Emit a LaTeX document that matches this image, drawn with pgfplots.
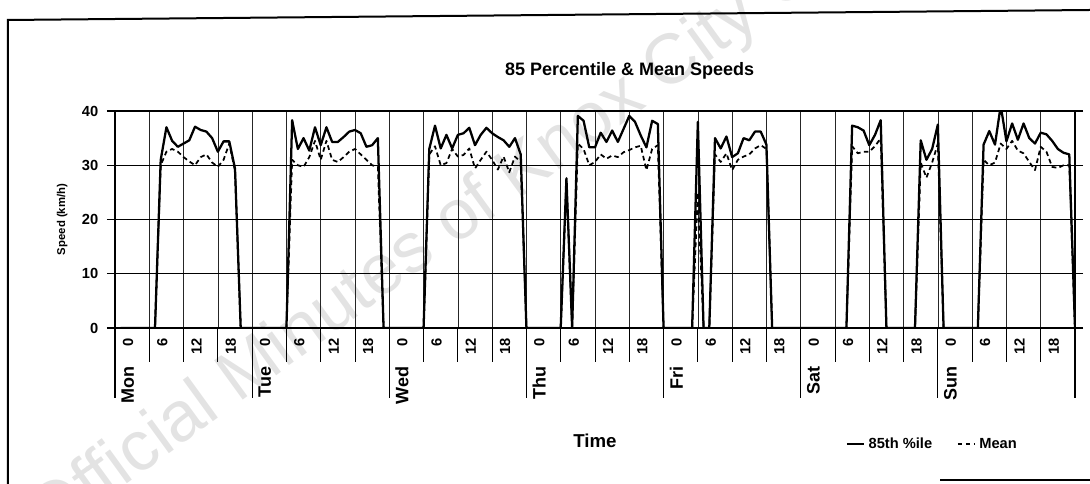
\documentclass[border=0pt]{standalone}
\usepackage{fontspec}
\setmainfont{Liberation Sans}
\usepackage{pgfplots}
\pgfplotsset{compat=1.18}
\usepackage{pgfplotstable}

\pgfplotstableread{
h p85 mean
1 0 0
2 0 0
3 0 0
4 0 0
5 0 0
6 0 0
7 0 0
8 31 30
9 37 32.5
10 34.5 33
11 33.4 32.5
12 34 31.5
13 34.6 30.7
14 37.1 30
15 36.5 31.5
16 36.2 32
17 35 30.5
18 32.5 29.7
19 34.4 31
20 34.4 34
21 29.4 29
22 0 0
23 0 0
24 0 0
25 0 0
26 0 0
27 0 0
28 0 0
29 0 0
30 0 0
31 38.3 31
32 33 30
33 35 29.7
34 32.7 31.5
35 37 34.5
36 33.7 31
37 37 34.5
38 34.3 31
39 34.3 30.6
40 35.2 31.5
41 36.2 32.5
42 36.5 33
43 35.9 32
44 33.4 31
45 33.7 30
46 35 29.7
47 0 0
48 0 0
49 0 0
50 0 0
51 0 0
52 0 0
53 0 0
54 0 0
55 33 32
56 37.3 33.5
57 33.1 30
58 35.6 30.4
59 33.1 33
60 35.6 31.6
61 35.9 31.9
62 36.9 33.1
63 33.7 29.4
64 35.6 31
65 36.9 32.5
66 35.9 31
67 35.2 29.2
68 34.6 31.6
69 33.4 28.7
70 35 31.6
71 32 30.6
72 0 0
73 0 0
74 0 0
75 0 0
76 0 0
77 0 0
78 0 0
79 27.6 27
80 0 0
81 39.1 34
82 38.2 33
83 33.3 30
84 33.3 30.6
85 36 32
86 34.3 31.2
87 36.4 31.8
88 34.3 31.5
89 36.7 32.4
90 39.1 32.8
91 38 33.3
92 35.5 33.6
93 33.3 29.1
94 38.2 33
95 37.6 33.7
96 0 0
97 0 0
98 0 0
99 0 0
100 0 0
101 0 0
102 38 25
103 0 0
104 0 0
105 35 32
106 33.1 30.6
107 35.3 32.2
108 31.5 29.1
109 32.2 31
110 35 31.6
111 34.6 32
112 36.2 33.1
113 36.2 33.7
114 33.8 33
115 0 0
116 0 0
117 0 0
118 0 0
119 0 0
120 0 0
121 0 0
122 0 0
123 0 0
124 0 0
125 0 0
126 0 0
127 0 0
128 0 0
129 37.3 33.5
130 37 32.2
131 36.4 32.5
132 33.7 32.5
133 35.6 33.5
134 38.3 35
135 0 0
136 0 0
137 0 0
138 0 0
139 0 0
140 0 0
141 34.6 30.5
142 31 27.7
143 33 30.5
144 37.5 34
145 0 0
146 0 0
147 0 0
148 0 0
149 0 0
150 0 0
151 0 0
152 33.8 31
153 36.3 30
154 33.8 30.5
155 41 34
156 34.4 33
157 37.7 34.5
158 34.7 32.7
159 37.7 32.2
160 35 30.6
161 34 29.1
162 36 33.4
163 35.7 32.5
164 34.5 29.7
165 33 29.5
166 32.3 30
167 32 30
168 0 0
}\speeds

\begin{document}
\begin{tikzpicture}
\useasboundingbox (-86.25pt,-117pt) rectangle (731.25pt,246pt);
% watermark
\begin{scope}
\clip (-86.25pt,-117pt) rectangle (731.25pt,246pt);
\node[rotate=36, anchor=base west, text=black!11, inner sep=0pt,
      font=\fontsize{53}{60}\selectfont] at (-50pt,-160pt)
      {Official Minutes of Knox City Council};
\end{scope}
% page frame
\draw[line width=1.5pt] (-80.25pt,-117pt) -- (-80.25pt,231pt) -- (731.25pt,238.5pt);
\draw[line width=1.2pt] (618.75pt,-114pt) -- (731.25pt,-114pt);

\begin{axis}[
  at={(0pt,0pt)}, anchor=south west,
  scale only axis, width=720pt, height=162.75pt,
  xmin=0, xmax=168, ymin=0, ymax=40,
  xtick={0,6,...,168}, xticklabels={},
  xtick style={draw=none},
  ytick={0,10,20,30,40},
  /pgf/number format/assume math mode=true,
  yticklabel style={font=\bfseries\fontsize{11}{12}\selectfont, xshift=-3pt},
  ytick style={draw=black, line width=0.8pt},
  tick align=outside, major tick length=6pt,
  xmajorgrids, ymajorgrids,
  x grid style={black!85, line width=0.5pt},
  y grid style={black, line width=0.8pt},
  axis line style={black, line width=0.8pt},
  title={85 Percentile \& Mean Speeds},
  title style={at={(0.536,1.15)}, anchor=center, font=\bfseries\fontsize{13.5}{16}\selectfont},
  ylabel={Speed (km/h)},
  ylabel style={at={(-0.055,0.5)}, anchor=center, rotate=0, font=\bfseries\fontsize{8.5}{10}\selectfont},
  xlabel={Time},
  xlabel style={at={(0.5,-0.52)}, anchor=center, font=\bfseries\fontsize{14}{16}\selectfont},
  legend style={at={(0.852,-0.535)}, anchor=center, draw=none, fill=none,
    legend columns=2, font=\bfseries\fontsize{11}{13}\selectfont,
    /tikz/every even column/.append style={column sep=16pt},
    inner sep=0pt, nodes={inner sep=2.5pt}},
  legend image code/.code={\draw[#1] (0pt,0pt) -- (13pt,0pt);},
]
\addplot[black, line width=1.7pt, line join=round] table[x=h, y=p85] {\speeds};
\addlegendentry{85th \%ile}
\addplot[black, line width=1.3pt, dash pattern=on 3.5pt off 2.5pt, line join=round] table[x=h, y=mean] {\speeds};
\addlegendentry{Mean}
\end{axis}

% six-hour ticks and day separators below the axis
\foreach \h in {0,6,...,168} \draw[line width=0.6pt] ({\h*4.285714pt},0pt) -- ++(0pt,-25.5pt);
\foreach \d in {0,24,...,168} \draw[line width=0.8pt] ({\d*4.285714pt},0pt) -- ++(0pt,-52.5pt);
% hour labels
\foreach \d in {0,...,6} {
  \foreach \k/\t in {0/0,6/6,12/12,18/18} {
    \node[rotate=90, anchor=east, inner sep=0pt, font=\bfseries\fontsize{11}{12}\selectfont]
      at ({(\d*24+\k)*4.285714pt+9.75pt},-7.5pt) {\t};
  }
}
% day labels
\foreach \d/\n in {0/Mon,1/Tue,2/Wed,3/Thu,4/Fri,5/Sat,6/Sun} {
  \node[rotate=90, anchor=east, inner sep=0pt, font=\bfseries\fontsize{13.5}{15}\selectfont]
    at ({\d*102.857143pt+9.5pt},-29pt) {\n};
}
\end{tikzpicture}
\end{document}
